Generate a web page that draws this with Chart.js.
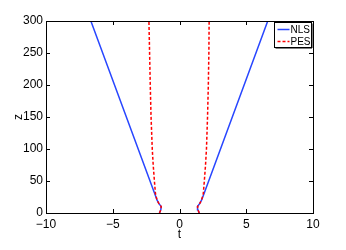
<!DOCTYPE html>
<html>
<head>
<meta charset="utf-8">
<script src="https://cdn.jsdelivr.net/npm/chart.js@4"></script>
<style>
  body { margin: 0; background: #fff; }
</style>
</head>
<body>
<canvas id="myChart" width="346" height="250"></canvas>
<script>
// z positions (propagation distance) and pulse positions t
const zNls = [0, 5, 10, 15, 20, 28, 300]
const nlsLeft = [-1.50, -1.40, -1.37, -1.55, -1.68, -1.82, -6.64]
const nlsRight = [1.48, 1.38, 1.35, 1.52, 1.65, 1.80, 6.61]

const zPes = [0, 5, 10, 15, 20, 30, 50, 75, 100, 150, 200, 250, 300]
const pesLeft = [-1.50, -1.40, -1.37, -1.55, -1.68, -1.80, -1.88, -1.97, -2.04, -2.13, -2.19, -2.24, -2.29]
const pesRight = [1.48, 1.38, 1.35, 1.52, 1.65, 1.78, 1.86, 1.95, 2.02, 2.10, 2.16, 2.20, 2.22]

const xTicks = [-10, -5, 0, 5, 10]
const yTicks = [0, 50, 100, 150, 200, 250, 300]

const blue = 'rgb(40, 70, 255)'
const red = 'rgb(255, 0, 0)'
const font = 'Liberation Sans, Arial, sans-serif'
const dotted = [3, 2]

const toPoints = (ts, zs) => ts.map((t, i) => ({ x: t, y: zs[i] }))

const series = [
  { label: 'NLS', data: toPoints(nlsLeft, zNls), color: blue, dash: [], order: 2 },
  { label: 'NLS', data: toPoints(nlsRight, zNls), color: blue, dash: [], order: 2 },
  { label: 'PES', data: toPoints(pesLeft, zPes), color: red, dash: dotted, order: 1 },
  { label: 'PES', data: toPoints(pesRight, zPes), color: red, dash: dotted, order: 1 }
]

// box round the plot, inward ticks on all four sides, and the legend
const matlabAxes = {
  id: 'matlabAxes',
  afterDraw(chart) {
    const { ctx, chartArea: a, scales: { x, y } } = chart
    ctx.save()
    ctx.strokeStyle = '#000'
    ctx.lineWidth = 1
    ctx.strokeRect(Math.round(a.left) + 0.5, Math.round(a.top) + 0.5,
      Math.round(a.right - a.left), Math.round(a.bottom - a.top))
    ctx.beginPath()
    const len = 4
    xTicks.forEach(v => {
      const px = Math.round(x.getPixelForValue(v)) + 0.5
      ctx.moveTo(px, a.bottom); ctx.lineTo(px, a.bottom - len)
      ctx.moveTo(px, a.top); ctx.lineTo(px, a.top + len)
    })
    yTicks.forEach(v => {
      const py = Math.round(y.getPixelForValue(v)) + 0.5
      ctx.moveTo(a.left, py); ctx.lineTo(a.left + len, py)
      ctx.moveTo(a.right, py); ctx.lineTo(a.right - len, py)
    })
    ctx.stroke()

    // legend
    const lx = 274.5, ly = 22.5, lw = 37, lh = 25
    ctx.fillStyle = '#fff'
    ctx.fillRect(lx, ly, lw, lh)
    ctx.strokeRect(lx, ly, lw, lh)
    ctx.beginPath()
    ctx.moveTo(lx + 1, ly + lh + 0.5); ctx.lineTo(lx + lw + 0.5, ly + lh + 0.5)
    ctx.lineTo(lx + lw + 0.5, ly + 1)
    ctx.stroke()
    const entries = [
      { label: 'NLS', color: blue, dash: [] },
      { label: 'PES', color: red, dash: dotted }
    ]
    ctx.font = '10px ' + font
    ctx.textBaseline = 'middle'
    entries.forEach((e, i) => {
      const cy = ly + 7 + i * 12
      ctx.strokeStyle = e.color
      ctx.lineWidth = 1.5
      ctx.setLineDash(e.dash)
      ctx.beginPath()
      ctx.moveTo(lx + 3, cy); ctx.lineTo(lx + 15, cy)
      ctx.stroke()
      ctx.setLineDash([])
      ctx.fillStyle = '#000'
      ctx.fillText(e.label, lx + 16, cy + 0.5)
    })
    ctx.restore()
  }
}

new Chart(document.getElementById('myChart'), {
  type: 'scatter',
  data: {
    datasets: series.map(s => ({
      label: s.label,
      data: s.data,
      showLine: true,
      borderColor: s.color,
      backgroundColor: s.color,
      borderWidth: 1.5,
      borderDash: s.dash,
      pointRadius: 0,
      tension: 0,
      order: s.order
    }))
  },
  options: {
    responsive: false,
    animation: false,
    layout: { padding: { top: 21, right: 33, bottom: 6, left: 0 } },
    plugins: {
      legend: { display: false },
      tooltip: { enabled: false }
    },
    scales: {
      x: {
        type: 'linear',
        min: -10,
        max: 10,
        afterBuildTicks: s => { s.ticks = xTicks.map(v => ({ value: v })) },
        afterFit: s => { s.height = 31 },
        grid: { display: false, drawTicks: false },
        border: { display: false },
        ticks: {
          padding: 4,
          color: '#000',
          font: { family: font, size: 12 },
          maxRotation: 0,
          callback: v => String(v).replace('-', '\u2212')
        },
        title: {
          display: true,
          text: 't',
          color: '#000',
          font: { family: font, size: 12 },
          padding: { top: 0, bottom: 2 }
        }
      },
      y: {
        type: 'linear',
        min: 0,
        max: 300,
        afterBuildTicks: s => { s.ticks = yTicks.map(v => ({ value: v })) },
        afterFit: s => { s.width = 46 },
        grid: { display: false, drawTicks: false },
        border: { display: false },
        ticks: {
          padding: 3,
          color: '#000',
          font: { family: font, size: 12 }
        },
        title: {
          display: true,
          text: 'z',
          color: '#000',
          font: { family: font, size: 12 },
          padding: { top: 11, bottom: 0 }
        }
      }
    }
  },
  plugins: [matlabAxes]
})
</script>
</body>
</html>
